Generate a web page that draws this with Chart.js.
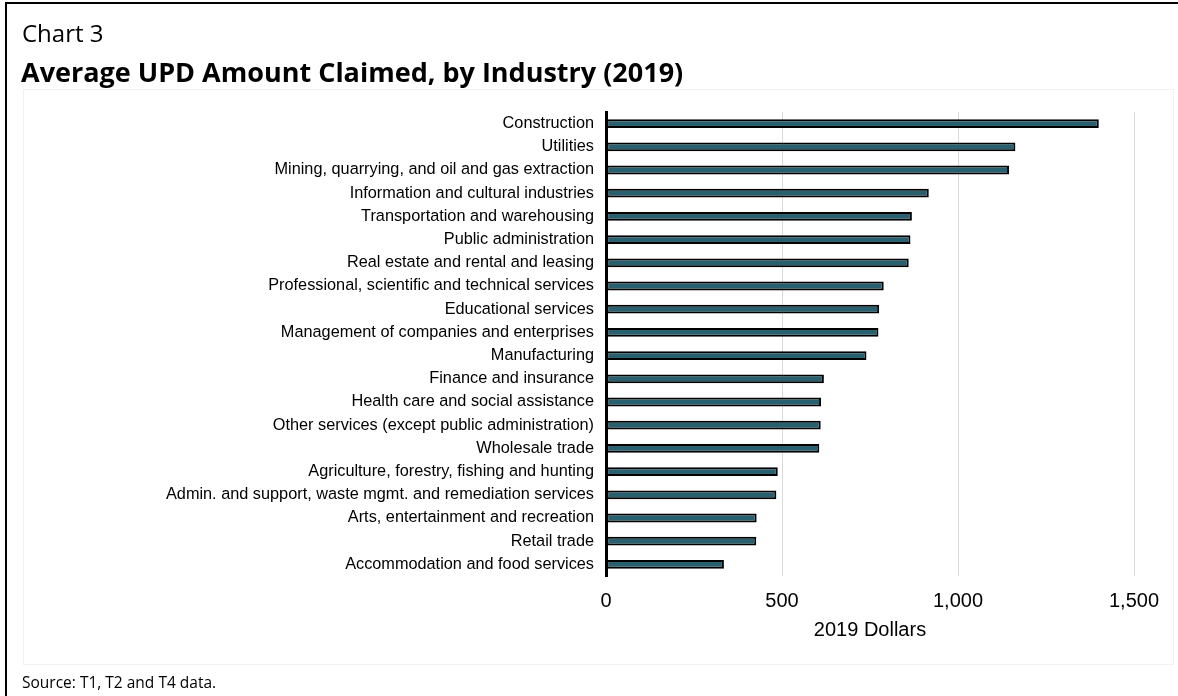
<!DOCTYPE html>
<html>
<head>
<meta charset="utf-8">
<script src="https://cdn.jsdelivr.net/npm/chart.js@4"></script>
<style>
  html, body { margin: 0; padding: 0; background: #fff; overflow: hidden; }
  body { width: 1178px; height: 696px; position: relative; }
  .frame { position: absolute; left: 5px; top: 2px; width: 1300px; height: 800px;
           border-left: 2px solid #000; border-top: 2px solid #000; box-sizing: border-box; }
  .panel { position: absolute; left: 23px; top: 89px; width: 1151px; height: 576px;
           border: 1px solid #f1f1f1; box-sizing: border-box; }
  .kicker { position: absolute; left: 22px; top: 16px; font: 24px "Open Sans", sans-serif; color: #000; line-height: normal; }
  .title { position: absolute; left: 21px; top: 53px; font: bold 27px "Open Sans", sans-serif; color: #000; line-height: normal; }
  .source { position: absolute; left: 22px; top: 671px; font: 15.5px "Open Sans", sans-serif; color: #000; line-height: normal; }
  #wrap { position: absolute; left: 0; top: 0; width: 1178px; height: 696px; }
</style>
</head>
<body>
<div class="frame"></div>
<div class="panel"></div>
<div id="wrap"><canvas id="chart"></canvas></div>
<div class="kicker">Chart 3</div>
<div class="title">Average UPD Amount Claimed, by Industry (2019)</div>
<div class="source">Source: T1, T2 and T4 data.</div>
<script>
const industries = [
  'Construction',
  'Utilities',
  'Mining, quarrying, and oil and gas extraction',
  'Information and cultural industries',
  'Transportation and warehousing',
  'Public administration',
  'Real estate and rental and leasing',
  'Professional, scientific and technical services',
  'Educational services',
  'Management of companies and enterprises',
  'Manufacturing',
  'Finance and insurance',
  'Health care and social assistance',
  'Other services (except public administration)',
  'Wholesale trade',
  'Agriculture, forestry, fishing and hunting',
  'Admin. and support, waste mgmt. and remediation services',
  'Arts, entertainment and recreation',
  'Retail trade',
  'Accommodation and food services'
];
const avgAmount = [1400, 1163, 1145, 917, 869, 865, 860, 789, 776, 774, 740, 619, 611, 610, 606, 488, 484, 428, 427, 335];
const xTicks = [0, 500, 1000, 1500];
const axisTitle = '2019 Dollars';

const labelFont = '"Liberation Sans", Arial, sans-serif';

new Chart(document.getElementById('chart'), {
  type: 'bar',
  data: {
    labels: industries,
    datasets: [{
      data: avgAmount,
      backgroundColor: '#29606f',
      borderColor: '#000',
      borderWidth: 2,
      borderSkipped: false,
      barPercentage: 0.38,
      categoryPercentage: 1
    }]
  },
  options: {
    indexAxis: 'y',
    responsive: true,
    maintainAspectRatio: false,
    animation: false,
    layout: { padding: { top: 112, right: 44, bottom: 50, left: 0 } },
    plugins: { legend: { display: false }, tooltip: { enabled: false } },
    scales: {
      x: {
        min: 0, max: 1500,
        afterBuildTicks: s => { s.ticks = xTicks.map(v => ({ value: v })); },
        afterFit: s => { s.height = 70; },
        grid: { color: '#dadada', lineWidth: 1, drawTicks: false },
        border: { display: false },
        ticks: {
          padding: 13,
          color: '#000',
          font: { family: labelFont, size: 20 },
          callback: v => v.toLocaleString('en-US')
        },
        title: {
          display: true,
          text: axisTitle,
          color: '#000',
          font: { family: labelFont, size: 20 },
          padding: { top: 4, bottom: 4 }
        }
      },
      y: {
        afterFit: s => { s.width = 606; },
        grid: { display: false, drawTicks: false },
        border: { display: true, color: '#000', width: 3 },
        ticks: {
          padding: 12,
          color: '#000',
          autoSkip: false,
          font: { family: labelFont, size: 16.3 }
        }
      }
    }
  }
});
</script>
</body>
</html>
